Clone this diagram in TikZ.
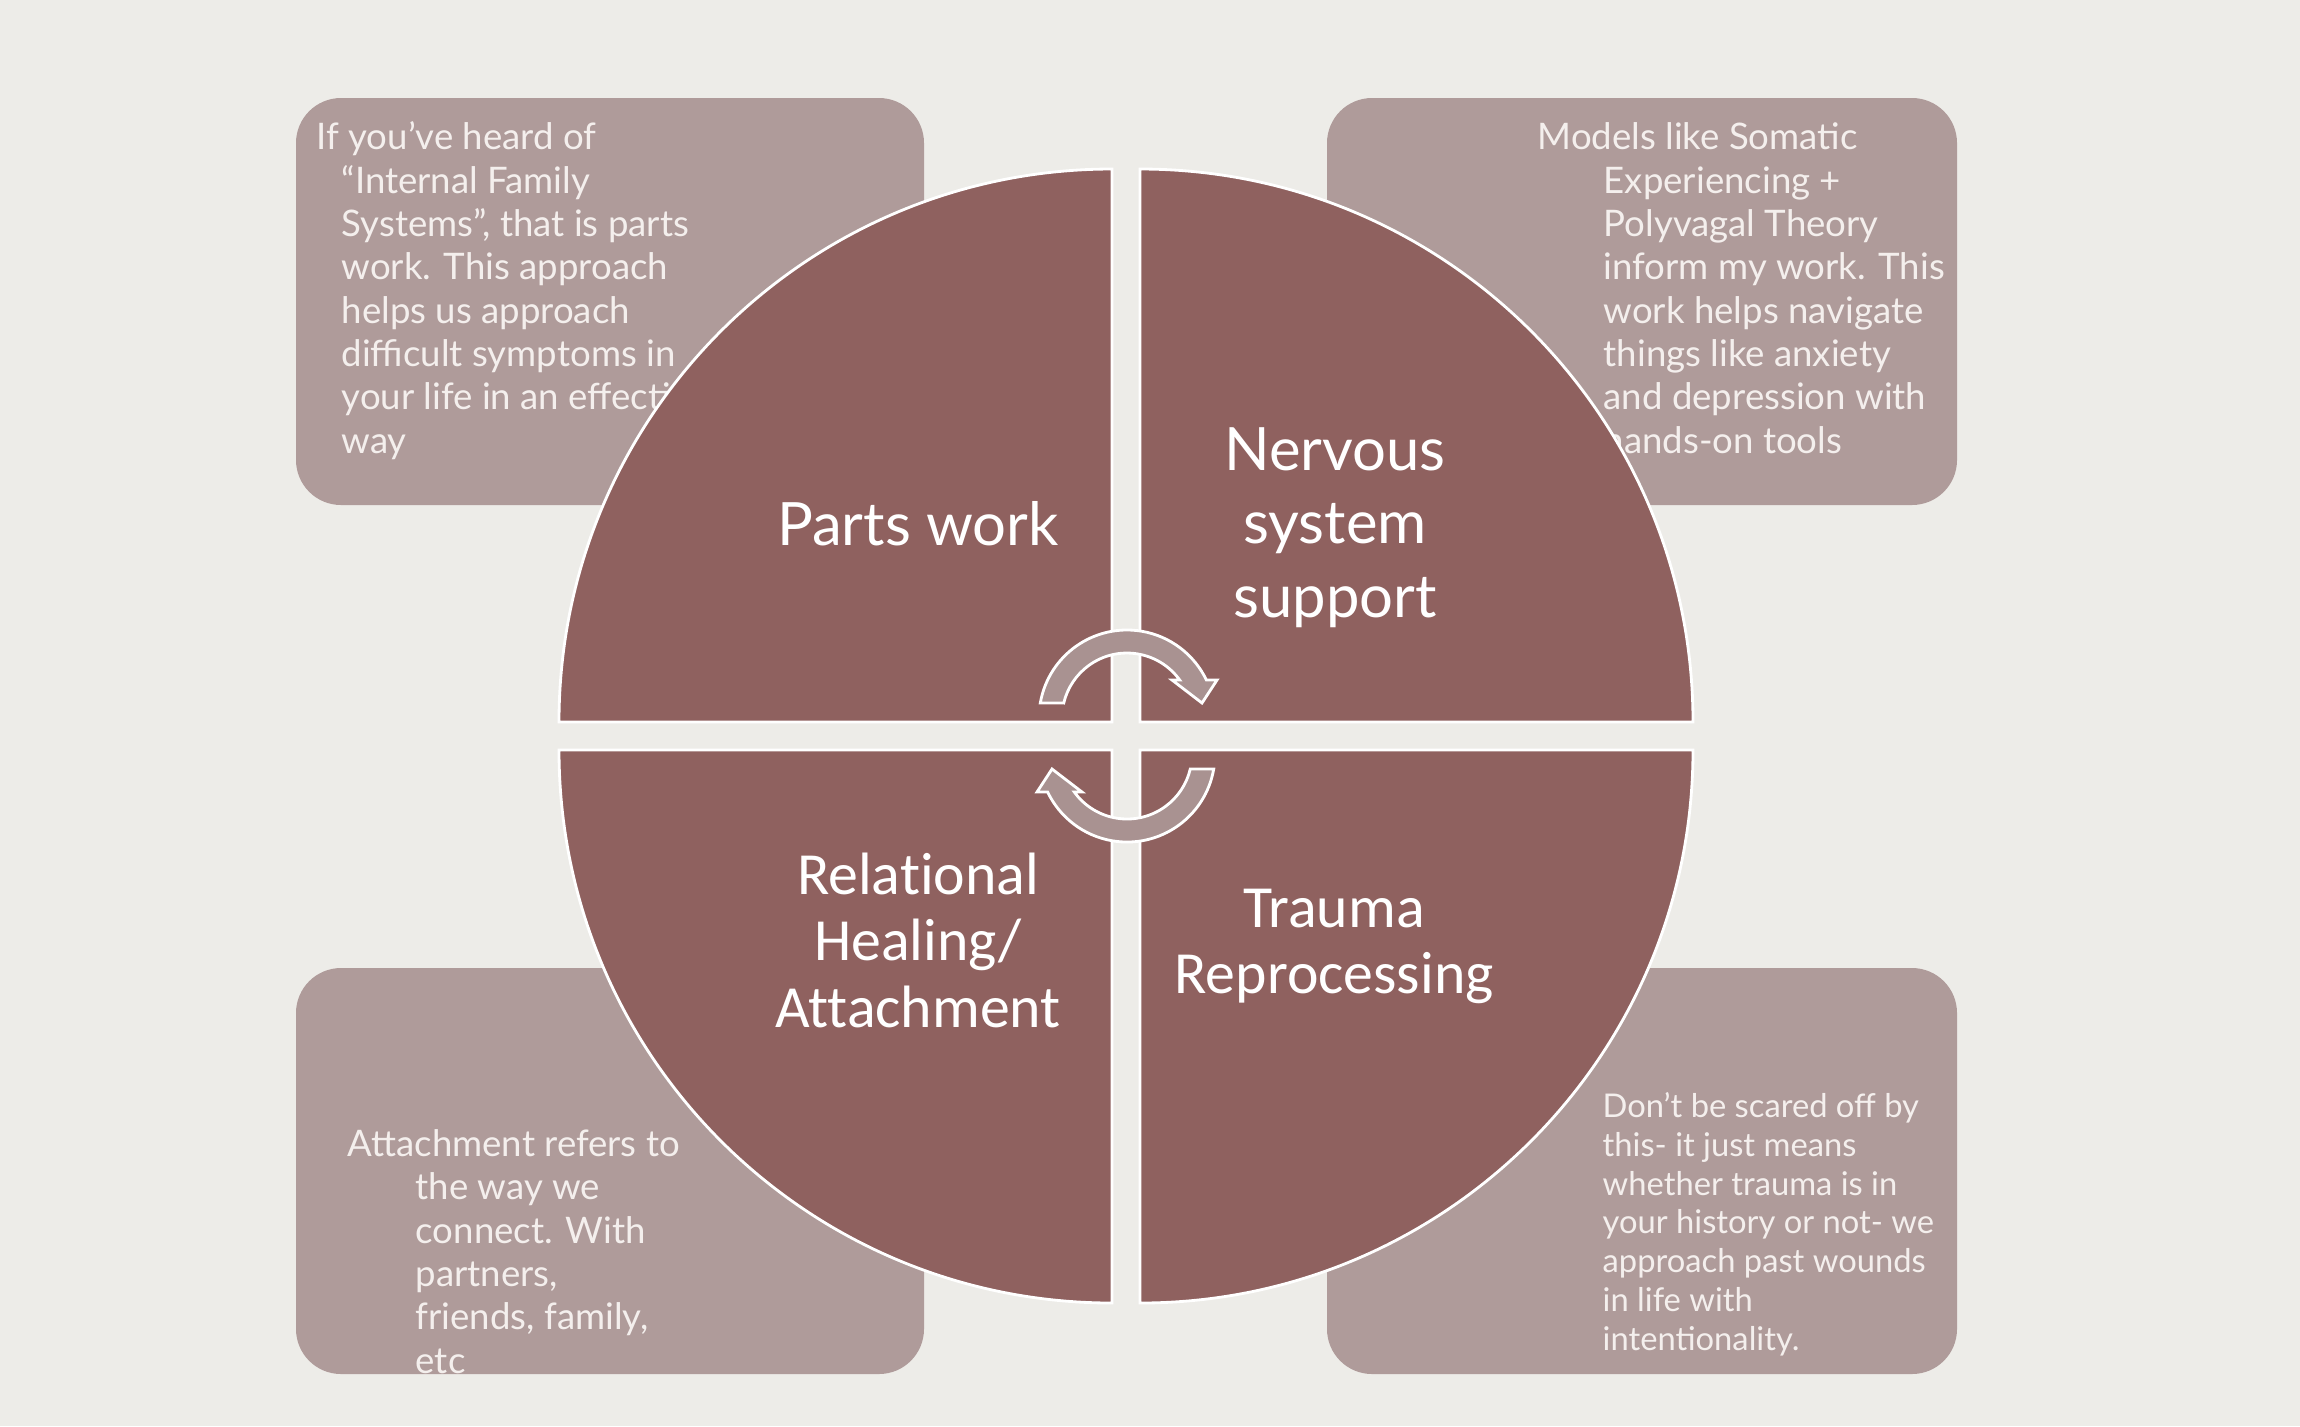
\documentclass[tikz,border=0pt]{standalone}
\usepackage{fontspec}
\usepackage{xcolor}
\usepackage{tikz}
\usetikzlibrary{positioning}
\newfontfamily\notefont{Lato}
\newfontfamily\calfont[Ligatures=NoCommon]{Carlito}
\definecolor{paperBg}{HTML}{EDECE8}
\definecolor{quadFill}{HTML}{8F615F}
\definecolor{sideFill}{HTML}{AF9B9A}
\definecolor{cycFill}{HTML}{A99291}
\definecolor{noteInk}{HTML}{F4EFED}
\tikzset{
  sidebox/.style={sideFill, rounded corners=0.45cm},
  notetxt/.style={font=\notefont\fontsize{10.4pt}{12.32pt}\selectfont, text=noteInk,
    align=left, anchor=base west, inner sep=0pt},
  quad/.style={quadFill, draw=white, line width=0.8pt},
  quadlabel/.style={text=white, align=center, anchor=base, inner sep=0pt},
  cyc/.style={cycFill, draw=white, line width=0.8pt}
}

\begin{document}
\begin{tikzpicture}[x=0.01cm, y=-0.01cm]
\fill[paperBg] (0,0) rectangle (2300,1426);
\useasboundingbox (0,0) rectangle (2300,1426);

% side boxes with their notes (base = last line)
\fill[sidebox] (296,98) rectangle (924,505);
\fill[sidebox] (1327,98) rectangle (1957,505);
\fill[sidebox] (296,968) rectangle (924,1374);
\fill[sidebox] (1327,968) rectangle (1957,1374);

\node[notetxt] (noteParts) at (316,453) {If you’ve heard of\\
  \hspace*{0.25cm}“Internal Family\\
  \hspace*{0.25cm}Systems”, that is parts\\
  \hspace*{0.25cm}work. This approach\\
  \hspace*{0.25cm}helps us approach\\
  \hspace*{0.25cm}difficult symptoms in\\
  \hspace*{0.25cm}your life in an effective\\
  \hspace*{0.25cm}way};
\node[notetxt] (noteNerves) at (1537,453) {Models like Somatic\\
  \hspace*{0.66cm}Experiencing +\\
  \hspace*{0.66cm}Polyvagal Theory\\
  \hspace*{0.66cm}inform my work. This\\
  \hspace*{0.66cm}work helps navigate\\
  \hspace*{0.66cm}things like anxiety\\
  \hspace*{0.66cm}and depression with\\
  \hspace*{0.66cm}hands-on tools};
\begin{scope}
\clip[rounded corners=0.45cm] (296,968) rectangle (924,1374);
\node[notetxt] (noteAttach) at (347,1373) {Attachment refers to\\
  \hspace*{0.68cm}the way we\\
  \hspace*{0.68cm}connect. With\\
  \hspace*{0.68cm}partners,\\
  \hspace*{0.68cm}friends, family,\\
  \hspace*{0.68cm}etc};
\end{scope}
\node[notetxt, font=\notefont\fontsize{9.3pt}{11pt}\selectfont] (noteTrauma) at (1602,1350) {Don’t be scared off by\\
  this- it just means\\
  whether trauma is in\\
  your history or not- we\\
  approach past wounds\\
  in life with\\
  intentionality.};

% four quarters of the disc
\fill[quad] (1112,722) -- (559,722) arc[start angle=180, end angle=270, radius=553] -- cycle;
\fill[quad] (1140,722) -- (1140,169) arc[start angle=270, end angle=360, radius=553] -- cycle;
\fill[quad] (1140,750) -- (1693,750) arc[start angle=0, end angle=90, radius=553] -- cycle;
\fill[quad] (1112,750) -- (1112,1303) arc[start angle=90, end angle=180, radius=553] -- cycle;

\node[quadlabel, font=\notefont\fontsize{17pt}{20.8pt}\selectfont] (lblParts) at (918,545) {Parts work};
\node[quadlabel, font=\notefont\fontsize{17pt}{20.8pt}\selectfont] (lblNerves) at (1335,617) {Nervous\\system\\support};
\node[quadlabel, font=\calfont\fontsize{17pt}{18.9pt}\selectfont] (lblAttach) at (918,1027) {Relational\\Healing/\\Attachment};
\node[quadlabel, font=\calfont\fontsize{17pt}{18.5pt}\selectfont] (lblTrauma) at (1334,993) {Trauma\\Reprocessing};

% circular arrows in the middle
\fill[cyc] (1040.3,703) arc[start angle=189.8, end angle=334.4, radius=88] -- (1217,680) -- (1202,703) -- (1172,680) -- (1179.7,680) arc[start angle=324.2, end angle=193.3, radius=65] -- cycle;
\begin{scope}[rotate around={180:(1127,736)}]
\fill[cyc] (1040.3,703) arc[start angle=189.8, end angle=334.4, radius=88] -- (1217,680) -- (1202,703) -- (1172,680) -- (1179.7,680) arc[start angle=324.2, end angle=193.3, radius=65] -- cycle;
\end{scope}
\end{tikzpicture}
\end{document}
